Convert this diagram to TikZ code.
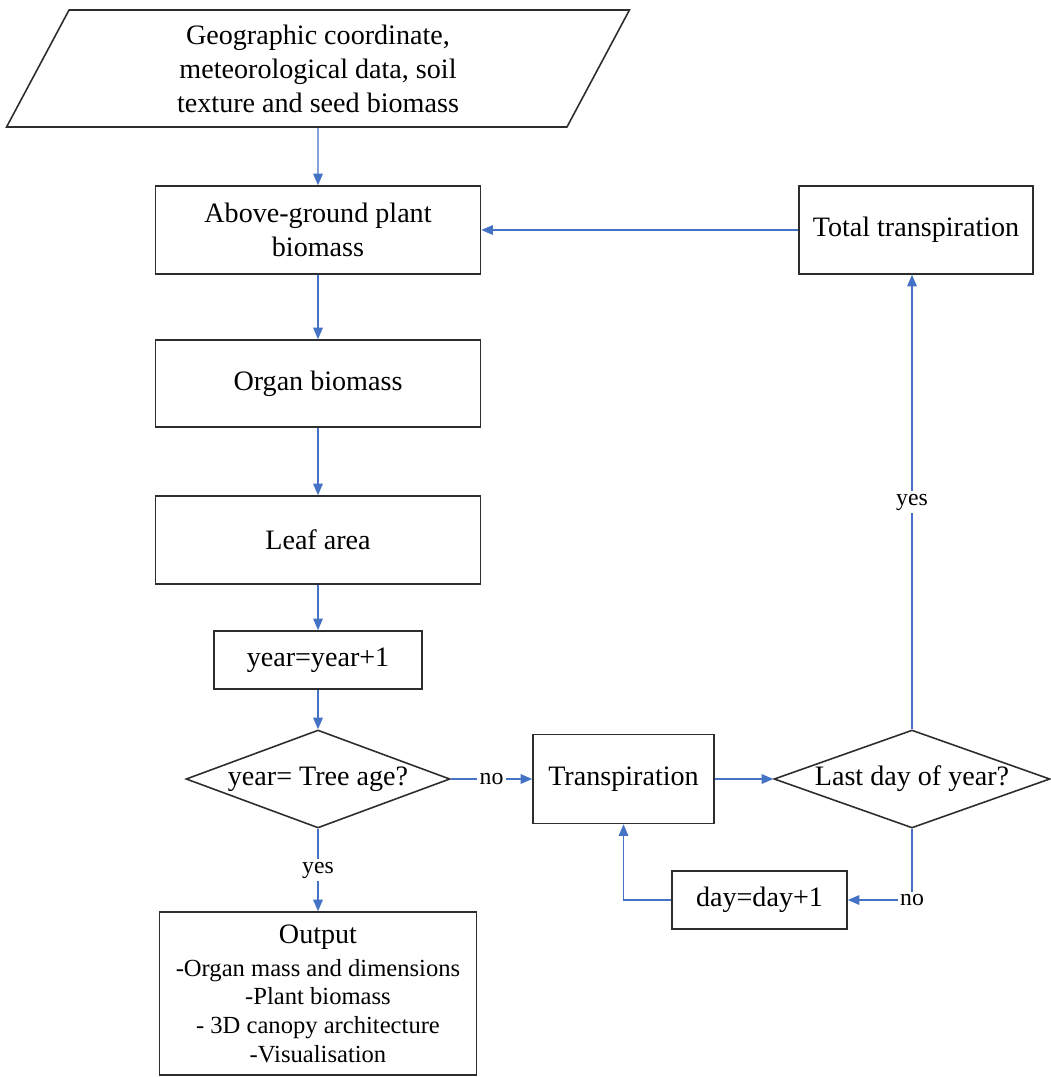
\documentclass[tikz,border=0pt]{standalone}
\usepackage{fontspec}
\setmainfont{Liberation Serif}
\usetikzlibrary{shapes.geometric,arrows.meta}
\definecolor{flowblue}{RGB}{68,114,196}
\definecolor{boxline}{RGB}{45,45,45}
\tikzset{
	box/.style={draw=boxline, line width=0.9pt, rectangle, align=center, inner sep=0pt, font=\fontsize{16}{19.3}\selectfont},
	datain/.style={draw=boxline, line width=0.9pt, trapezium, trapezium left angle=54.5, trapezium right angle=125.5, trapezium stretches body=true, align=center, inner sep=0pt, font=\fontsize{16}{19.3}\selectfont},
	decision/.style={draw=boxline, line width=0.9pt, diamond, shape aspect=2.7, inner sep=0pt, font=\fontsize{16}{19.3}\selectfont},
	flow/.style={draw=flowblue, line width=0.8pt, -{Triangle[length=2.3mm,width=1.9mm]}},
	lbl/.style={fill=white, inner sep=1.5pt, font=\fontsize{13.5}{16}\selectfont},
}
\begin{document}
\begin{tikzpicture}[x=0.02cm, y=-0.02cm]
		\useasboundingbox (0,0) rectangle (1050,1077);

		\node[datain, minimum width=12.46cm, minimum height=2.34cm] (input) at (318,68.5) {Geographic coordinate,\\meteorological data, soil\\texture and seed biomass};
		\node[box, minimum width=6.5cm, minimum height=1.76cm] (abg) at (318,230) {Above-ground plant\\biomass};
		\node[box, minimum width=4.68cm, minimum height=1.76cm] (total) at (916,230) {Total transpiration};
		\node[box, minimum width=6.5cm, minimum height=1.74cm] (organ) at (318,383.5) {Organ biomass};
		\node[box, minimum width=6.5cm, minimum height=1.76cm] (leaf) at (318,540) {Leaf area};
		\node[box, minimum width=4.16cm, minimum height=1.16cm] (year) at (318,660) {year=year+1};
		\node[decision, minimum width=5.28cm, minimum height=1.96cm] (agetest) at (318,779) {year= Tree age?};
		\node[box, minimum width=3.62cm, minimum height=1.78cm] (transp) at (623.5,779) {Transpiration};
		\node[decision, minimum width=5.52cm, minimum height=1.96cm] (daytest) at (912,779) {Last day of year?};
		\node[box, minimum width=3.5cm, minimum height=1.16cm] (day) at (759.5,900) {day=day+1};
		\node[box, minimum width=6.34cm, minimum height=3.26cm, font=\fontsize{14}{16.3}\selectfont] (output) at (318,993.5) {{\fontsize{16}{19.3}\selectfont Output}\\[2.5pt]-Organ mass and dimensions\\-Plant biomass\\- 3D canopy architecture\\-Visualisation};

		\draw[flow] (input.south) -- (abg.north);
		\draw[flow] (abg) -- (organ);
		\draw[flow] (organ) -- (leaf);
		\draw[flow] (leaf) -- (year);
		\draw[flow] (year) -- (agetest);
		\draw[flow] (agetest) -- node[lbl] {no} (transp);
		\draw[flow] (agetest) -- node[lbl] {yes} (output);
		\draw[flow] (transp) -- (daytest);
		\draw[flow] (daytest.north) -- node[lbl] {yes} (daytest.north |- total.south);
		\draw[flow] (total) -- (abg);
		\draw[flow] (daytest.south) |- node[lbl, pos=0.5] {no} (day.east);
		\draw[flow] (day.west) -| (transp.south);
	\end{tikzpicture}
\end{document}
